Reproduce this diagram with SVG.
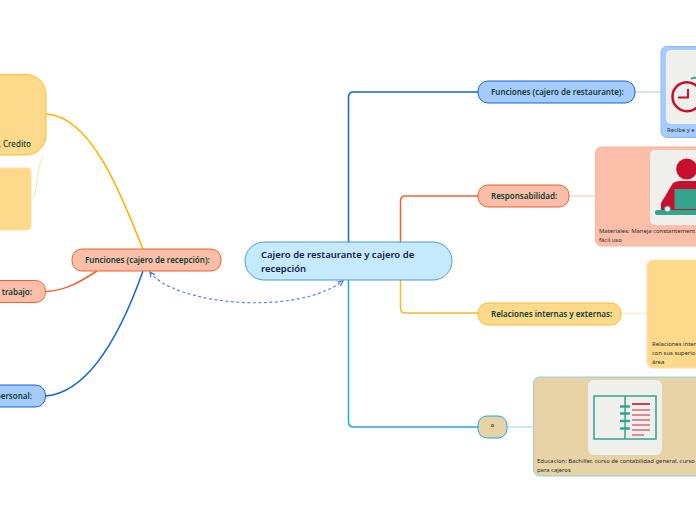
<svg xmlns="http://www.w3.org/2000/svg" width="696" height="520" viewBox="0 0 696 520">
<style>
text{font-family:"Noto Sans","Open Sans","Liberation Sans",sans-serif;fill:#0f3d33}
.m{font-size:8px;font-weight:600}
.t{font-size:9.500px;font-weight:600;fill:#14234f}
.s{font-size:5.900px;fill:#2b2b2b}
.c{fill:none;stroke-width:1.5}
.l{fill:none;stroke-width:1.5;opacity:.45}
.red{fill:#c8102e}.grn{fill:#34a58c}
</style>
<defs><marker id="a" markerUnits="userSpaceOnUse" markerWidth="7" markerHeight="7" refX="5" refY="3" orient="auto-start-reverse"><path d="M0 0.500L5 3L0 5.500" fill="none" stroke="#4f6ff0" stroke-width="1.200"/></marker></defs>
<rect width="696" height="520" fill="#fff"/>
<g id="connectors">
<path class="c" stroke="#1164d6" d="M348.500 242V97Q348.500 92 353.500 92H478"/>
<path class="c" stroke="#f4602c" d="M400.500 242V201Q400.500 196 405.500 196H478"/>
<path class="c" stroke="#fcb72c" d="M400.500 280V308Q400.500 313 405.500 313H478"/>
<path class="c" stroke="#1ea7e6" d="M348.500 280V422Q348.500 427 353.500 427H478"/>
<path class="c" stroke="#fcb400" d="M46 114C90 116 120 190 144 252"/>
<path class="c" stroke="#f4602c" d="M46 291.500C65 291 80 282 97 271"/>
<path class="c" stroke="#1164d6" d="M46 396C90 392 122 330 143 271"/>
<path fill="none" stroke="#fde3a8" d="M32 198.500C38 195 36 170 43 156"/>
<path class="l" stroke="#6fa8f5" d="M635 92H661"/>
<path class="l" stroke="#f9a287" d="M569 196H595"/>
<path class="l" stroke="#fdd98b" d="M621 313.500H647"/>
<path class="l" stroke="#4fc0ee" d="M507 427H533"/>
<path fill="none" stroke="#5f7df2" stroke-width="1.200" stroke-dasharray="3 2.500" marker-start="url(#a)" marker-end="url(#a)" d="M150 272C172 303 292 318 343 281"/>
</g>
<g id="central"><rect x="245" y="242" width="207" height="38" rx="19" fill="#c5e9fd" stroke="#4a9cd0"/>
<text class="t" x="261" y="258">Cajero de restaurante y cajero de</text>
<text class="t" x="261" y="271.500">recepción</text></g>
<g id="n-rest"><rect x="478" y="81" width="157" height="22" rx="10" fill="#a6ccff" stroke="#1164d6"/><text class="m" x="491" y="95">Funciones (cajero de restaurante):</text></g>
<g id="p-rest"><rect x="661" y="46.500" width="50" height="91" rx="6" fill="#a6ccff" stroke="#8ab8fa"/><rect x="666" y="50" width="40" height="74" rx="5" fill="#efefec"/>
<circle cx="687" cy="96.700" r="14.500" fill="none" stroke="#c8102e" stroke-width="2.500"/><path d="M688 89V97.500H678" fill="none" stroke="#c8102e" stroke-width="2"/><path d="M691 79Q693 77 696 78" stroke="#34a58c" stroke-width="2" fill="none"/>
<text class="s" x="667" y="132">Recibe y e</text></g>
<g id="n-resp"><rect x="478" y="185" width="91" height="22" rx="10" fill="#fbbfa9" stroke="#f4602c"/><text class="m" x="491" y="199">Responsabilidad:</text></g>
<g id="p-resp"><rect x="595.500" y="147" width="120" height="99" rx="6" fill="#fbbfa9" stroke="#fbb29a"/><rect x="650" y="150" width="60" height="75" rx="5" fill="#efefec"/>
<circle class="red" cx="686.700" cy="169" r="10.500"/><path class="red" d="M661 210V203L673 183Q676 181 680 181H696V210Z"/><rect class="grn" x="674.500" y="189" width="30" height="20"/><rect class="grn" x="655" y="210" width="50" height="5" rx="2"/><circle cx="667.500" cy="209" r="3" fill="#efefec" stroke="#34a58c"/>
<text class="s" x="599" y="233">Materiales: Maneja constantement</text><text class="s" x="599" y="241.500">fácil uso</text></g>
<g id="n-rel"><rect x="478" y="303" width="143" height="22" rx="10" fill="#fdd98b" stroke="#fcbc2c"/><text class="m" x="491" y="317">Relaciones internas y externas:</text></g>
<g id="p-rel"><rect x="647" y="260" width="70" height="108" rx="6" fill="#fdd98b" stroke="#fde09f"/>
<text class="s" x="652" y="346">Relaciones inter</text><text class="s" x="652" y="355">con sus superio</text><text class="s" x="652" y="364">área</text></g>
<g id="n-edu"><rect x="478" y="416" width="29" height="22" rx="9" fill="#e7d3a6" stroke="#1ea7e6"/><text class="m" x="492.500" y="430" text-anchor="middle">°</text></g>
<g id="p-edu"><rect x="533.500" y="377" width="170" height="99" rx="6" fill="#e7d3a6" stroke="#8fd0ea"/><rect x="588" y="380" width="74" height="75" rx="6" fill="#efefec"/>
<rect x="594" y="396" width="62" height="43" fill="none" stroke="#34a58c" stroke-width="1.500"/><path d="M625 396V439" stroke="#34a58c" stroke-width="1.500"/><path d="M621 406.500h8M621 413.500h8M621 421h8M621 428.500h8" stroke="#34a58c" stroke-width="2.500" stroke-linecap="round"/>
<path d="M632 404h18" stroke="#c8102e" stroke-width="2" opacity=".8"/><path d="M632 410h18M632 415h18M632 420h18M632 425h18M632 430h18M632 435h12" stroke="#c8102e" stroke-width="1.500" opacity=".6"/>
<text class="s" x="537" y="463">Educacion: Bachiller, curso de contabilidad general, curso</text><text class="s" x="537" y="471.500">para cajeros</text></g>
<g id="n-rec"><rect x="72" y="249" width="149" height="22" rx="10" fill="#fbbfa9" stroke="#f4602c"/><text class="m" x="85" y="263">Funciones (cajero de recepción):</text></g>
<g id="n-l1"><rect x="-40" y="74.500" width="86" height="80.500" rx="20" fill="#fdd98b" stroke="#fcbc2c"/><text class="m" x="31" y="147" text-anchor="end" style="font-weight:500">, Credito</text></g>
<g id="n-l2"><rect x="-30" y="168" width="61" height="62" rx="4" fill="#fdd98b" stroke="#fde09f"/></g>
<g id="n-l3"><rect x="-40" y="280.500" width="85.500" height="22" rx="10" fill="#fbbfa9" stroke="#f4602c"/><text class="m" x="32" y="295" text-anchor="end">e trabajo:</text></g>
<g id="n-l4"><rect x="-40" y="385" width="85.500" height="22" rx="10" fill="#a6ccff" stroke="#1164d6"/><text class="m" x="32" y="399" text-anchor="end">personal:</text></g>
</svg>
